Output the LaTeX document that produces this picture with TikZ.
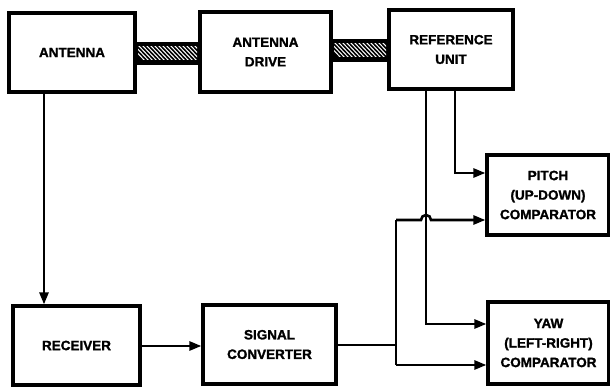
\documentclass[tikz,border=0pt]{standalone}
\usepackage{fontspec}
\setmainfont{Liberation Sans}[BoldFeatures={FakeBold=1.5}]
\usetikzlibrary{arrows.meta}
\begin{document}
\begin{tikzpicture}[x=1pt,y=-1pt,
  blk/.style={draw,line width=3.2pt,align=center,inner sep=0pt,
    font=\bfseries\fontsize{13.5}{19.5}\selectfont},
  conn/.style={line width=2.6pt},
  arr/.style={conn,-{Triangle[length=12pt,width=9pt]}},
  hatchline/.style={white,line width=1pt}]
\useasboundingbox (0,0) rectangle (610,387);
\node[blk,minimum width=126pt,minimum height=79pt] (ant) at (72,52.5) {ANTENNA};
\node[blk,minimum width=131pt,minimum height=80pt] (drv) at (265.5,52) {ANTENNA\\DRIVE};
\node[blk,minimum width=124pt,minimum height=79pt] (ref) at (451,49.5) {REFERENCE\\UNIT};
\node[blk,minimum width=122pt,minimum height=80pt] (pitch) at (548,195) {PITCH\\(UP-DOWN)\\COMPARATOR};
\node[blk,minimum width=121pt,minimum height=82pt] (yaw) at (548.5,343) {YAW\\(LEFT-RIGHT)\\COMPARATOR};
\node[blk,minimum width=127pt,minimum height=79pt] (rcv) at (76.5,345.5) {RECEIVER};
\node[blk,minimum width=133pt,minimum height=79pt] (sc) at (269.5,344.5) {SIGNAL\\CONVERTER};
% shafts
\fill[black] (ant.east|-0,42) rectangle (drv.west|-0,65);
\begin{scope}
  \clip (138,47) rectangle (197,60);
  \foreach \i in {0,4,...,80} {\draw[hatchline] (130+\i,45) -- (146+\i,62);}
\end{scope}
\fill[black] (drv.east|-0,39) rectangle (ref.west|-0,62);
\begin{scope}
  \clip (334,44) rectangle (386,57);
  \foreach \i in {0,4,...,80} {\draw[hatchline] (326+\i,42) -- (342+\i,59);}
\end{scope}
% connectors
\coordinate (j) at (396,345);
\draw[arr] (ant.south-|44,0) -- (rcv.north-|44,0);
\draw[arr] (rcv.east|-0,346) -- (sc.west|-0,346);
\draw[conn] (sc.east|-j) -- (j);
\draw[conn] (396,220) -- (396,365);
\draw[arr] (396,220) -- (421,220) arc[start angle=180,end angle=0,radius=5pt] -- (pitch.west|-0,220);
\draw[arr] (396,365) -- (yaw.west|-0,365);
\draw[arr] (ref.south-|426,0) -- (426,324) -- (yaw.west|-0,324);
\draw[arr] (ref.south-|455,0) -- (455,173) -- (pitch.west|-0,173);
\end{tikzpicture}
\end{document}
